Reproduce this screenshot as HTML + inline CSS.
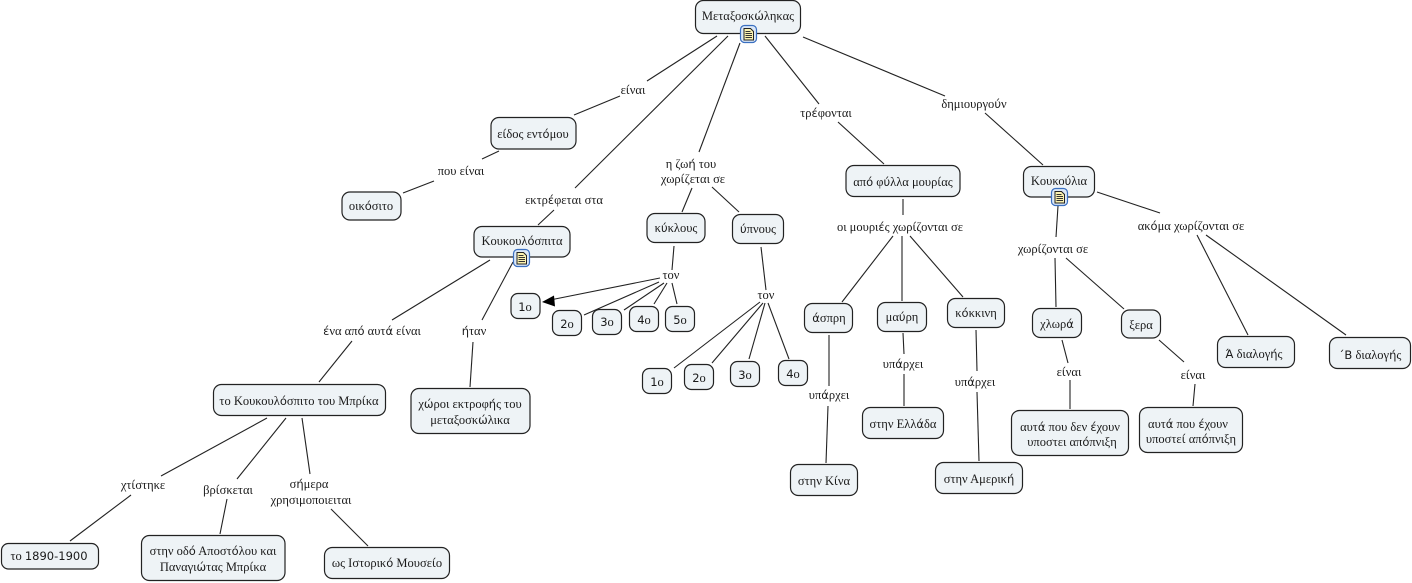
<!DOCTYPE html>
<html><head><meta charset="utf-8"><style>
html,body{margin:0;padding:0;background:#fff}
svg{display:block}
.l line{stroke:#222;stroke-width:1.1}
.b rect{fill:#eef3f6;stroke:#222;stroke-width:1.2}
text{font-family:"Liberation Serif",serif;font-size:12.5px;letter-spacing:0;fill:#1a1a1a;text-anchor:middle}
tspan.a{font-family:"DejaVu Sans",sans-serif;font-size:11.5px}
</style></head><body>
<svg width="1412" height="583" viewBox="0 0 1412 583" xmlns="http://www.w3.org/2000/svg">
<defs>
<g id="n"><rect x="0.5" y="0.5" width="16" height="17" rx="4" fill="#dbe8f8" stroke="#3a6fc0" stroke-width="1.2"/><path d="M4 3.5h6.5l3 3v8.5h-9.500z" fill="#fbf2b0" stroke="#222" stroke-width="1"/><path d="M5.500 6.500h5M5.500 8.500h6.500M5.500 10.500h6.500M5.500 12.500h6.500" stroke="#333" stroke-width=".9"/></g>
</defs>
<g class="l">
<line x1="717" y1="36" x2="647" y2="81"/><line x1="620" y1="96" x2="574" y2="115"/>
<line x1="499" y1="151" x2="482" y2="159"/><line x1="434" y1="181" x2="403" y2="193"/>
<line x1="728" y1="36" x2="575" y2="188"/><line x1="554" y1="210" x2="538" y2="225"/>
<line x1="740" y1="43" x2="699" y2="152"/>
<line x1="692" y1="188" x2="682" y2="212"/><line x1="712" y1="187" x2="739" y2="212"/>
<line x1="674" y1="246" x2="672" y2="270"/>
<line x1="660" y1="278" x2="550" y2="300"/>
<line x1="659" y1="282" x2="584" y2="315"/><line x1="664" y1="283" x2="624" y2="310"/>
<line x1="667" y1="283" x2="654" y2="304"/><line x1="672" y1="283" x2="677" y2="304"/>
<line x1="761" y1="247" x2="766" y2="290"/><line x1="760" y1="302" x2="674" y2="368"/>
<line x1="763" y1="303" x2="712" y2="363"/><line x1="765" y1="303" x2="749" y2="359"/>
<line x1="768" y1="303" x2="789" y2="359"/>
<line x1="765" y1="36" x2="819" y2="104"/><line x1="838" y1="122" x2="884" y2="164"/>
<line x1="803" y1="37" x2="945" y2="96"/><line x1="985" y1="113" x2="1043" y2="165"/>
<line x1="903" y1="199" x2="903" y2="215"/><line x1="893" y1="236" x2="842" y2="302"/>
<line x1="902" y1="236" x2="902" y2="301"/><line x1="910" y1="236" x2="963" y2="297"/>
<line x1="829" y1="335" x2="829" y2="386"/><line x1="828" y1="406" x2="826" y2="463"/>
<line x1="903" y1="333" x2="904" y2="354"/><line x1="904" y1="374" x2="904" y2="406"/>
<line x1="976" y1="330" x2="977" y2="371"/><line x1="977" y1="392" x2="979" y2="461"/>
<line x1="1058" y1="206" x2="1056" y2="237"/><line x1="1055" y1="258" x2="1056" y2="307"/>
<line x1="1066" y1="258" x2="1124" y2="309"/>
<line x1="1097" y1="192" x2="1160" y2="213"/><line x1="1197" y1="235" x2="1248" y2="335"/>
<line x1="1206" y1="235" x2="1346" y2="335"/>
<line x1="1062" y1="340" x2="1068" y2="363"/><line x1="1070" y1="380" x2="1070" y2="409"/>
<line x1="1159" y1="340" x2="1184" y2="362"/><line x1="1195" y1="384" x2="1193" y2="406"/>
<line x1="490" y1="260" x2="392" y2="320"/><line x1="352" y1="341" x2="319" y2="382"/>
<line x1="513" y1="262" x2="482" y2="320"/><line x1="473" y1="342" x2="470" y2="387"/>
<line x1="267" y1="418" x2="161" y2="476"/><line x1="286" y1="418" x2="237" y2="479"/>
<line x1="302" y1="418" x2="310" y2="474"/>
<line x1="131" y1="495" x2="70" y2="541"/><line x1="227" y1="499" x2="220" y2="534"/>
<line x1="331" y1="509" x2="368" y2="546"/>
</g>
<path d="M542 302L554 295.500L555 306.500Z" fill="#000"/>
<g class="b">
<rect x="695.500" y="0.500" width="105" height="33" rx="8"/>
<rect x="491" y="117.500" width="85" height="31.500" rx="8"/>
<rect x="342" y="192" width="59" height="28" rx="8"/>
<rect x="474" y="226.500" width="96" height="30.500" rx="8"/>
<rect x="647" y="213.500" width="58" height="29" rx="8"/>
<rect x="732.500" y="214.500" width="51" height="29" rx="8"/>
<rect x="511" y="293.500" width="29" height="25" rx="7"/>
<rect x="552.500" y="310.500" width="29" height="25" rx="7"/>
<rect x="592.500" y="309.500" width="29" height="25" rx="7"/>
<rect x="629.500" y="306.500" width="29" height="25" rx="7"/>
<rect x="665.500" y="306.500" width="29" height="25" rx="7"/>
<rect x="642.500" y="368.500" width="29" height="25" rx="7"/>
<rect x="684.500" y="364.500" width="29" height="25" rx="7"/>
<rect x="730.500" y="361.500" width="29" height="25" rx="7"/>
<rect x="778.500" y="360.500" width="29" height="25" rx="7"/>
<rect x="846" y="165.500" width="114" height="31" rx="8"/>
<rect x="1023.500" y="166.500" width="71" height="30.500" rx="8"/>
<rect x="804.500" y="303.500" width="48" height="29" rx="8"/>
<rect x="877.500" y="302.500" width="49" height="29" rx="8"/>
<rect x="947.500" y="298.500" width="57" height="29" rx="8"/>
<rect x="1032.500" y="308.500" width="49" height="29" rx="8"/>
<rect x="1121.500" y="310" width="39" height="28" rx="8"/>
<rect x="1217.500" y="336.500" width="77" height="31" rx="8"/>
<rect x="1329.500" y="337.500" width="81" height="31" rx="8"/>
<rect x="1011.500" y="410.500" width="117" height="45" rx="8"/>
<rect x="1139.500" y="407.500" width="103" height="45" rx="8"/>
<rect x="213.500" y="384.500" width="172" height="31" rx="8"/>
<rect x="411" y="388.500" width="119" height="45" rx="8"/>
<rect x="1.500" y="543.500" width="97" height="25.500" rx="7"/>
<rect x="141.500" y="535.500" width="143.500" height="45" rx="8"/>
<rect x="324.500" y="547.500" width="125" height="31" rx="8"/>
<rect x="790.500" y="464.500" width="67" height="31" rx="8"/>
<rect x="862.500" y="407.500" width="81" height="31" rx="8"/>
<rect x="935.500" y="462.500" width="87" height="31" rx="8"/>
</g>
<use href="#n" x="740" y="25"/><use href="#n" x="513" y="249"/><use href="#n" x="1051" y="188"/>
<text x="748" y="20">Μεταξοσκ<tspan class="a">ώ</tspan>ληκας</text>
<text x="633" y="94">ε<tspan class="a">ί</tspan>ναι</text>
<text x="533" y="138">ε<tspan class="a">ί</tspan>δος εντ<tspan class="a">ό</tspan>μου</text>
<text x="461" y="175">που ε<tspan class="a">ί</tspan>ναι</text>
<text x="371" y="210">οικ<tspan class="a">ό</tspan>σιτο</text>
<text x="564" y="204">εκτρ<tspan class="a">έ</tspan>φεται στα</text>
<text x="522" y="245">Κουκουλ<tspan class="a">ό</tspan>σπιτα</text>
<text x="691" y="168">η ζω<tspan class="a">ή</tspan> του</text>
<text x="693" y="183">χωρ<tspan class="a">ί</tspan>ζεται σε</text>
<text x="826" y="117">τρ<tspan class="a">έ</tspan>φονται</text>
<text x="974" y="108">δημιουργο<tspan class="a">ύ</tspan>ν</text>
<text x="676" y="232">κ<tspan class="a">ύ</tspan>κλους</text>
<text x="758" y="233"><tspan class="a">ύ</tspan>πνους</text>
<text x="671" y="279">τον</text>
<text x="766" y="299">τον</text>
<text x="525" y="311"><tspan class="a">1</tspan>ο</text>
<text x="567" y="328"><tspan class="a">2</tspan>ο</text>
<text x="607" y="326"><tspan class="a">3</tspan>ο</text>
<text x="644" y="324"><tspan class="a">4</tspan>ο</text>
<text x="680" y="324"><tspan class="a">5</tspan>ο</text>
<text x="657" y="386"><tspan class="a">1</tspan>ο</text>
<text x="699" y="382"><tspan class="a">2</tspan>ο</text>
<text x="745" y="379"><tspan class="a">3</tspan>ο</text>
<text x="793" y="378"><tspan class="a">4</tspan>ο</text>
<text x="903" y="186">απ<tspan class="a">ό</tspan> φ<tspan class="a">ύ</tspan>λλα μουρ<tspan class="a">ί</tspan>ας</text>
<text x="900" y="231">οι μουρι<tspan class="a">έ</tspan>ς χωρ<tspan class="a">ί</tspan>ζονται σε</text>
<text x="829" y="322"><tspan class="a">ά</tspan>σπρη</text>
<text x="902" y="321">μα<tspan class="a">ύ</tspan>ρη</text>
<text x="976" y="317">κ<tspan class="a">ό</tspan>κκινη</text>
<text x="829" y="399">υπ<tspan class="a">ά</tspan>ρχει</text>
<text x="903" y="368">υπ<tspan class="a">ά</tspan>ρχει</text>
<text x="975" y="386">υπ<tspan class="a">ά</tspan>ρχει</text>
<text x="824" y="485">στην Κ<tspan class="a">ί</tspan>να</text>
<text x="903" y="428">στην Ελλ<tspan class="a">ά</tspan>δα</text>
<text x="979" y="483">στην Αμερικ<tspan class="a">ή</tspan></text>
<text x="1059" y="185">Κουκο<tspan class="a">ύ</tspan>λια</text>
<text x="1053" y="253">χωρ<tspan class="a">ί</tspan>ζονται σε</text>
<text x="1191" y="230">ακ<tspan class="a">ό</tspan>μα χωρ<tspan class="a">ί</tspan>ζονται σε</text>
<text x="1057" y="328">χλωρ<tspan class="a">ά</tspan></text>
<text x="1141" y="329">ξερα</text>
<text x="1069" y="376">ε<tspan class="a">ί</tspan>ναι</text>
<text x="1193" y="379">ε<tspan class="a">ί</tspan>ναι</text>
<text x="1070" y="431">αυτ<tspan class="a">ά</tspan> που δεν <tspan class="a">έ</tspan>χουν</text>
<text x="1072" y="446">υποστει απ<tspan class="a">ό</tspan>πνιξη</text>
<text x="1188" y="428">αυτ<tspan class="a">ά</tspan> που <tspan class="a">έ</tspan>χουν</text>
<text x="1191" y="443">υποστε<tspan class="a">ί</tspan> απ<tspan class="a">ό</tspan>πνιξη</text>
<text x="1254" y="358"><tspan class="a">Ά</tspan> διαλογ<tspan class="a">ή</tspan>ς</text>
<text x="1370" y="359"><tspan class="a">΄Β</tspan> διαλογ<tspan class="a">ή</tspan>ς</text>
<text x="372" y="335"><tspan class="a">έ</tspan>να απ<tspan class="a">ό</tspan> αυτ<tspan class="a">ά</tspan> ε<tspan class="a">ί</tspan>ναι</text>
<text x="474" y="335"><tspan class="a">ή</tspan>ταν</text>
<text x="299" y="405">το Κουκουλ<tspan class="a">ό</tspan>σπιτο του Μπρ<tspan class="a">ί</tspan>κα</text>
<text x="470" y="408">χ<tspan class="a">ώ</tspan>ροι εκτροφ<tspan class="a">ή</tspan>ς του</text>
<text x="470" y="424">μεταξοσκ<tspan class="a">ώ</tspan>λικα</text>
<text x="143" y="489">χτ<tspan class="a">ί</tspan>στηκε</text>
<text x="228" y="494">βρ<tspan class="a">ί</tspan>σκεται</text>
<text x="309" y="488">σ<tspan class="a">ή</tspan>μερα</text>
<text x="311" y="504">χρησιμοποιειται</text>
<text x="49" y="560">το <tspan class="a">1890-1900</tspan></text>
<text x="213" y="555">στην οδ<tspan class="a">ό</tspan> Αποστ<tspan class="a">ό</tspan>λου και</text>
<text x="213" y="571">Παναγι<tspan class="a">ώ</tspan>τας Μπρ<tspan class="a">ί</tspan>κα</text>
<text x="387" y="567">ως Ιστορικ<tspan class="a">ό</tspan> Μουσε<tspan class="a">ί</tspan>ο</text>
</svg>
</body></html>
